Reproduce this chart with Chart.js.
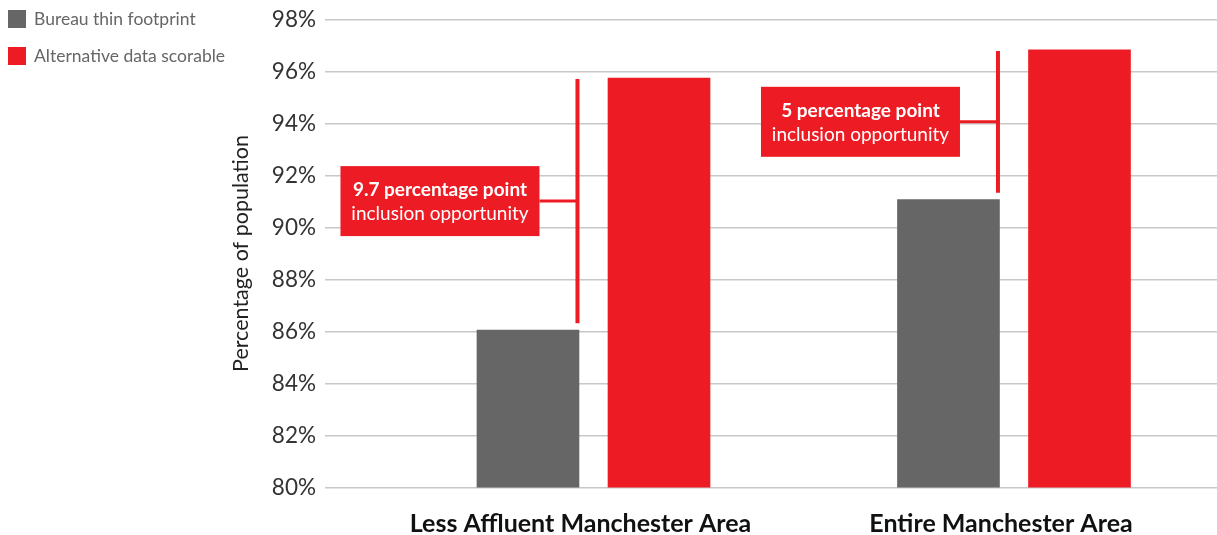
<!DOCTYPE html>
<html>
<head>
<meta charset="utf-8">
<title>Inclusion opportunity – Manchester</title>
<script src="https://cdn.jsdelivr.net/npm/chart.js@4/dist/chart.umd.min.js"></script>
<style>
  html, body { margin: 0; padding: 0; background: #ffffff; }
  #wrap { position: relative; width: 1217px; height: 535px; }
</style>
</head>
<body>
<div id="wrap"><canvas id="chart"></canvas></div>
<script>
// Areas compared
const categories = ['Less Affluent Manchester Area', 'Entire Manchester Area'];

// Share of the population (%)
const bureauThin = [86.05, 91.07];
const altScorable = [95.75, 96.83];

// Series names
const seriesNames = ['Bureau thin footprint', 'Alternative data scorable'];

// Y-axis ticks (%)
const yTicks = [80, 82, 84, 86, 88, 90, 92, 94, 96, 98];

// Callout text for the gap between the two bars
const gapHeadlines = ['9.7 percentage point', '5 percentage point'];
const gapSubline = 'inclusion opportunity';

const GREY = '#666666';
const RED = '#ED1C24';
const FONT = 'Lato, "Source Sans Pro", "Open Sans", sans-serif';

// Horizontal offset of each bar from its category position (in category units)
const BAR_SHIFT = 0.1558;

// Legend drawn in the top-left corner
const cornerLegend = {
  id: 'cornerLegend',
  afterDraw(chart) {
    const ctx = chart.ctx;
    ctx.save();
    ctx.font = '17.5px ' + FONT;
    ctx.textBaseline = 'middle';
    ctx.textAlign = 'left';
    chart.data.datasets.forEach((ds, i) => {
      const top = 10 + i * 37;
      ctx.fillStyle = ds.backgroundColor;
      ctx.fillRect(8, top, 18, 18);
      ctx.fillStyle = '#666666';
      ctx.fillText(ds.label, 34, top + 9.5);
    });
    ctx.restore();
  }
};

// Bracket and callout box showing the gap between the two bars
const gapCallouts = {
  id: 'gapCallouts',
  afterDatasetsDraw(chart) {
    const ctx = chart.ctx;
    const y = chart.scales.y;
    const greyMeta = chart.getDatasetMeta(0);
    categories.forEach((c, i) => {
      const bar = greyMeta.data[i];
      const lineX = bar.x + bar.width / 2 - 1.5;
      const yTop = y.getPixelForValue(altScorable[i]) + 1;
      const yBot = y.getPixelForValue(bureauThin[i]) - 7;
      const midY = (yTop + yBot) / 2;
      const boxW = 199, boxH = 70;
      const boxRight = lineX - 38;
      const boxLeft = boxRight - boxW;

      ctx.save();
      ctx.strokeStyle = RED;
      ctx.lineWidth = 4;
      ctx.beginPath();
      ctx.moveTo(lineX, yTop);
      ctx.lineTo(lineX, yBot);
      ctx.stroke();
      ctx.lineWidth = 3;
      ctx.beginPath();
      ctx.moveTo(boxRight, midY);
      ctx.lineTo(lineX, midY);
      ctx.stroke();

      ctx.fillStyle = RED;
      ctx.fillRect(boxLeft, midY - boxH / 2, boxW, boxH);

      ctx.fillStyle = '#ffffff';
      ctx.textAlign = 'center';
      ctx.textBaseline = 'middle';
      const cx = boxLeft + boxW / 2;
      ctx.font = 'bold 19px ' + FONT;
      ctx.fillText(gapHeadlines[i], cx, midY - 11);
      ctx.font = '19px ' + FONT;
      ctx.fillText(gapSubline, cx, midY + 13);
      ctx.restore();
    });
  }
};

new Chart(document.getElementById('chart'), {
  type: 'bar',
  data: {
    datasets: [
      {
        label: seriesNames[0],
        data: bureauThin.map((v, i) => ({ x: i - BAR_SHIFT, y: v })),
        backgroundColor: GREY
      },
      {
        label: seriesNames[1],
        data: altScorable.map((v, i) => ({ x: i + BAR_SHIFT, y: v })),
        backgroundColor: RED
      }
    ]
  },
  options: {
    responsive: true,
    maintainAspectRatio: false,
    animation: false,
    devicePixelRatio: 1,
    grouped: false,
    barThickness: 102,
    layout: { padding: { left: 228, top: 19.5, right: 0, bottom: 0 } },
    plugins: {
      legend: { display: false },
      tooltip: { enabled: false }
    },
    scales: {
      x: {
        type: 'linear',
        min: -0.6385,
        max: 1.4828,
        offset: false,
        grid: { display: false, offset: false, drawTicks: false },
        border: { display: false },
        afterBuildTicks: (scale) => {
          scale.ticks = categories.map((_, i) => ({ value: i }));
        },
        afterFit: (scale) => { scale.height = 47.5; },
        ticks: {
          autoSkip: false,
          maxRotation: 0,
          padding: 21,
          labelOffset: -13,
          color: '#111111',
          font: { family: FONT, size: 25, weight: 'bold' },
          callback: (v) => categories[v] ?? ''
        }
      },
      y: {
        min: yTicks[0],
        max: yTicks[yTicks.length - 1],
        afterBuildTicks: (scale) => {
          scale.ticks = yTicks.map(v => ({ value: v }));
        },
        afterFit: (scale) => { scale.width = 97; },
        grid: { color: '#c8c8c8', lineWidth: 1.5, drawTicks: false },
        border: { display: false },
        ticks: {
          padding: 9,
          color: '#333333',
          font: { family: FONT, size: 22.5, lineHeight: 0.9 },
          callback: (v) => v + '%'
        },
        title: {
          display: true,
          text: 'Percentage of population',
          color: '#222222',
          padding: 0,
          font: { family: FONT, size: 21.5, lineHeight: 1.2 }
        }
      }
    }
  },
  plugins: [cornerLegend, gapCallouts]
});
</script>
</body>
</html>
